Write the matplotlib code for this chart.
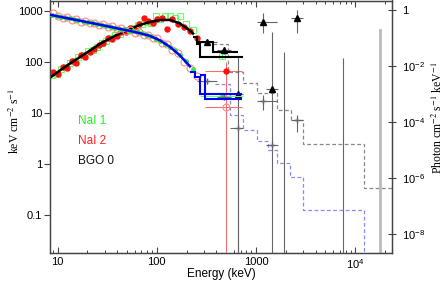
import matplotlib
matplotlib.use('Agg')
import matplotlib.pyplot as plt

plt.rcParams['font.family'] = ['Liberation Sans', 'DejaVu Sans']
plt.rcParams['mathtext.fontset'] = 'custom'
plt.rcParams['mathtext.rm'] = 'Liberation Sans'
plt.rcParams['mathtext.it'] = 'Liberation Sans:italic'

# ---------------- data ----------------
# NaI 1 (green)
E_nai1 = [8.8, 9.9, 10.8, 12.2, 13.4, 15.0, 16.2, 18.5, 20.3, 22.8, 25.1, 28.1, 30.8, 34.8,
          38.2, 42.7, 46.7, 52.5, 57.7, 64.7, 71.0, 79.7, 87.4, 98.2, 108, 121, 136, 153,
          172, 198, 232, 452]
F_nai1 = [56, 60, 74, 80, 98, 104, 128, 140, 170, 178, 200, 236, 262, 300, 350, 358, 420,
          430, 470, 540, 560, 620, 590, 820, 720, 800, 830, 760, 820, 560, 440, 131]
N_nai1 = [0.66, 0.61, 0.57, 0.50, 0.49, 0.44, 0.42, 0.37, 0.36, 0.33, 0.31, 0.28, 0.27, 0.25,
          0.23, 0.21, 0.20, 0.18, 0.17, 0.155, 0.145, 0.13, 0.112, 0.09, 0.078, 0.06, 0.049,
          0.036, 0.025, 0.0148, 0.0078, 8.3e-4]
# NaI 2 (red)
E_nai2 = [9.0, 10.1, 11.4, 12.5, 14.0, 15.3, 17.2, 18.8, 21.2, 23.3, 26.2, 28.7, 32.2, 35.4,
          39.8, 43.7, 49.0, 53.8, 60.3, 66.2, 74.4, 81.6, 91.6, 100, 113, 127, 142, 163, 188,
          218, 256, 500]
F_nai2 = [65, 60, 82, 78, 105, 98, 140, 125, 160, 185, 215, 240, 300, 290, 330, 400, 390,
          480, 440, 560, 760, 640, 580, 700, 760, 450, 720, 560, 500, 420, 300, 68]
N_nai2 = [0.78, 0.60, 0.52, 0.55, 0.44, 0.47, 0.38, 0.40, 0.33, 0.34, 0.28, 0.30, 0.24, 0.26,
          0.20, 0.23, 0.18, 0.19, 0.15, 0.16, 0.125, 0.13, 0.10, 0.095, 0.068, 0.060, 0.038,
          0.029, 0.014, 0.0085, 0.0042, 3.3e-4]
# last NaI bins (error ranges)
nai1_last_E = [273, 741]
nai2_last_E = [307, 724]
nai2_last_F_hi = 99.5
# BGO 0 (black / gray)
E_bgo = [321, 476, 659, 1181, 1454, 1919, 2595, 7551]
E_bgo_lo = [255, 405, 548, 1026, 1260, 1919, 2260, 7551]
E_bgo_hi = [405, 560, 741, 1633, 1680, 1919, 2985, 7551]
F_bgo = [249, 171, 23.4, 617, 30.3, 0.005, 752, 0.005]
F_bgo_lo = [215, 148, 0.001, 370, 0.001, 0.001, 370, 0.001]
F_bgo_hi = [290, 198, 125, 914, 392, 159, 1046, 119]
N_bgo = [2.8e-3, 7.8e-4, 6.0e-5, 5.5e-4, 1.5e-5, 1e-12, 1.2e-4, 1e-12]
N_bgo_lo = [2.3e-3, 6.3e-4, 1e-12, 2.7e-4, 8e-6, 1e-12, 4.3e-5, 1e-12]
N_bgo_hi = [3.4e-3, 9.5e-4, 1.3e-4, 8.9e-4, 2.6e-5, 1e-12, 1.73e-4, 1e-12]
E_bgo_far = 17820
F_bgo_far_hi = 424

# Models
E_model = [8.4, 10.6, 13.4, 16.9, 21.3, 26.8, 33.8, 42.6, 53.7, 67.7, 85.4, 108, 136, 171, 216, 232]
F_model = [49.8, 69.3, 95.1, 127.7, 171, 230, 295, 370, 453, 543, 622, 681, 681, 581, 423, 368]
N_model = [0.664, 0.563, 0.478, 0.406, 0.345, 0.293, 0.248, 0.207, 0.176, 0.146, 0.117,
           0.0808, 0.0474, 0.0237, 0.0096, 0.0075]
blkA_edges = [232, 255, 273, 741]
blkA_vals = [308, 225, 126]
blkB_edges = [255, 369, 659]
blkB_vals = [249, 158]
bluA_edges = [216, 243, 273, 724]
bluA_vals = [6.0e-3, 3.9e-3, 1.03e-3]
bluB_edges = [273, 307, 724]
bluB_vals = [4.6e-3, 6.4e-4]
# model extension (dashed)
grayd_edges = [369, 523, 741, 1026, 1633, 2260, 2985, 12300, 30000]
grayd_vals = [225, 64.2, 38.5, 24.5, 11.3, 7.22, 2.44, 0.333]
blued_edges = [387, 548, 741, 1026, 1325, 1633, 2208, 2985, 12300, 30000]
blued_vals = [2.2e-3, 1.73e-4, 5.07e-5, 2.06e-5, 9.8e-6, 3.4e-6, 1.08e-6, 7.2e-8, 1e-12]

labels = ['NaI 1', 'NaI 2', 'BGO 0']
label_colors = ['#22ee22', '#ff2020', '#111111']

# ---------------- figure ----------------
fig = plt.figure(figsize=(4.44, 2.81), dpi=100)
ax = fig.add_axes([50 / 444, 28 / 281, 342 / 444, 252.5 / 281])
ax.set_xscale('log')
ax.set_yscale('log')
ax.set_xlim(8.4, 23500)
ax.set_ylim(0.0177, 1644)
ax2 = ax.twinx()
ax2.set_yscale('log')
ax2.set_ylim(10 ** -8.67, 10 ** 0.33)

spc = '#444444'
for a in (ax, ax2):
    for s in a.spines.values():
        s.set_color(spc)
        s.set_linewidth(0.9)

# dashed model extensions
ax.stairs(grayd_vals, grayd_edges, baseline=None, color='#888888', lw=0.9, ls=(0, (3, 2)), zorder=2)
ax2.stairs(blued_vals, blued_edges, baseline=None, color='#8888ff', lw=0.9, ls=(0, (3, 2)), zorder=2)

# NaI nuFnu
ax.plot(E_nai1[:-1], F_nai1[:-1], 's', mfc='none', mec='#66ff66', ms=4.5, mew=0.8, zorder=3)
ax.plot(E_nai2[:-1], F_nai2[:-1], 'o', color='#ff1010', ms=3.6, zorder=3)
ax.errorbar([E_nai1[-1]], [F_nai1[-1]],
            xerr=[[E_nai1[-1] - nai1_last_E[0]], [nai1_last_E[1] - E_nai1[-1]]],
            yerr=[[F_nai1[-1] * 0.12], [F_nai1[-1] * 0.14]],
            fmt='s', mfc='none', mec='#66ff66', ecolor='#66ff66', ms=4.5, mew=0.8, elinewidth=0.8, zorder=3)
ax.errorbar([E_nai2[-1]], [F_nai2[-1]],
            xerr=[[E_nai2[-1] - nai2_last_E[0]], [nai2_last_E[1] - E_nai2[-1]]],
            yerr=[[F_nai2[-1] - 0.001], [nai2_last_F_hi - F_nai2[-1]]],
            fmt='o', color='#ff1010', ecolor='#f07070', ms=3.6, elinewidth=0.8, zorder=3)

# BGO nuFnu
for i in range(len(E_bgo)):
    ax.errorbar([E_bgo[i]], [F_bgo[i]],
                xerr=[[E_bgo[i] - E_bgo_lo[i]], [E_bgo_hi[i] - E_bgo[i]]],
                yerr=[[F_bgo[i] - F_bgo_lo[i]], [F_bgo_hi[i] - F_bgo[i]]],
                fmt='^', color='black', ecolor='#666666', ms=5, elinewidth=0.8, zorder=4)
ax.plot([E_bgo_far, E_bgo_far], [0.001, F_bgo_far_hi], color='#bbbbbb', lw=2, zorder=2)

# nuFnu model
ax.plot(E_model, F_model, color='black', lw=1.8, zorder=5)
ax.stairs(blkA_vals, blkA_edges, baseline=None, color='black', lw=1.5, zorder=5)
ax.stairs(blkB_vals, blkB_edges, baseline=None, color='black', lw=1.5, zorder=5)

# photon spectra on right axis
ax2.plot(E_nai2[:-1], N_nai2[:-1], 'o', mfc='none', mec='#ff8888', ms=5, mew=0.8, zorder=3)
ax2.plot(E_nai1[:-1], N_nai1[:-1], 'o', color='#33ee33', ms=2.5, zorder=3)
ax2.errorbar([E_nai2[-1]], [N_nai2[-1]],
             xerr=[[E_nai2[-1] - nai2_last_E[0]], [nai2_last_E[1] - E_nai2[-1]]],
             fmt='o', mfc='none', mec='#ff8888', ecolor='#f07070', ms=5, mew=0.8, elinewidth=0.8, zorder=3)
ax2.errorbar([E_nai1[-1]], [N_nai1[-1]],
             xerr=[[E_nai1[-1] - nai1_last_E[0]], [nai1_last_E[1] - E_nai1[-1]]],
             fmt='o', color='#33ee33', ecolor='#66ff66', ms=2.5, elinewidth=0.8, zorder=3)
for i in range(len(E_bgo)):
    ax2.errorbar([E_bgo[i]], [N_bgo[i]],
                 xerr=[[E_bgo[i] - E_bgo_lo[i]], [E_bgo_hi[i] - E_bgo[i]]],
                 yerr=[[N_bgo[i] - N_bgo_lo[i]], [N_bgo_hi[i] - N_bgo[i]]],
                 fmt='+', color='#666666', ms=4, elinewidth=0.8, zorder=4)
ax2.plot(E_model[:-1], N_model[:-1], color='#0000ff', lw=1.8, zorder=5)
ax2.stairs(bluA_vals, bluA_edges, baseline=None, color='#0000ff', lw=1.5, zorder=5)
ax2.stairs(bluB_vals, bluB_edges, baseline=None, color='#0000ff', lw=1.5, zorder=5)

# ticks
ax.set_yticks([0.1, 1, 10, 100, 1000])
ax.set_yticklabels(['0.1', '1', '10', '100', '1000'])
ax.yaxis.set_minor_locator(matplotlib.ticker.NullLocator())
ax.set_xticks([10, 100, 1000, 10000])
ax.set_xticklabels(['10', '100', '1000', '$10^4$'])
ax.tick_params(axis='y', which='major', direction='out', length=4, width=0.8, color=spc,
               labelsize=8, pad=1.5)
ax.tick_params(axis='x', which='major', direction='in', length=4, width=0.8, color=spc,
               labelsize=8, top=True, pad=3)
ax.tick_params(axis='x', which='minor', direction='in', length=2.5, width=0.7, color=spc, top=True)
ax2.set_yticks([1e-8, 1e-6, 1e-4, 1e-2, 1])
ax2.set_yticklabels(['$10^{-8}$', '$10^{-6}$', '$10^{-4}$', '$10^{-2}$', '1'])
ax2.yaxis.set_minor_locator(matplotlib.ticker.NullLocator())
ax2.tick_params(axis='y', which='major', direction='inout', length=6, width=0.8, color=spc,
                labelsize=8, pad=4)

# labels
fig.text(221 / 444, 1 - 273.5 / 281, 'Energy (keV)', ha='center', va='center', fontsize=8.5)
fig.text(15 / 444, 1 - 121 / 281, r'keV cm$^{-2}$ s$^{-1}$', rotation=90, ha='center', va='center',
         fontsize=8.5, family='Liberation Serif', math_fontfamily='stix')
fig.text(438 / 444, 1 - 118 / 281, r'Photon cm$^{-2}$ s$^{-1}$ keV$^{-1}$', rotation=90,
         ha='center', va='center', fontsize=8.5, family='Liberation Serif', math_fontfamily='stix')

for i, (lab, col) in enumerate(zip(labels, label_colors)):
    ax.text(0.082, 0.523 - i * 0.079, lab, color=col, fontsize=8.5, transform=ax.transAxes,
            ha='left', va='center')

fig.savefig('out.png', dpi=100)
